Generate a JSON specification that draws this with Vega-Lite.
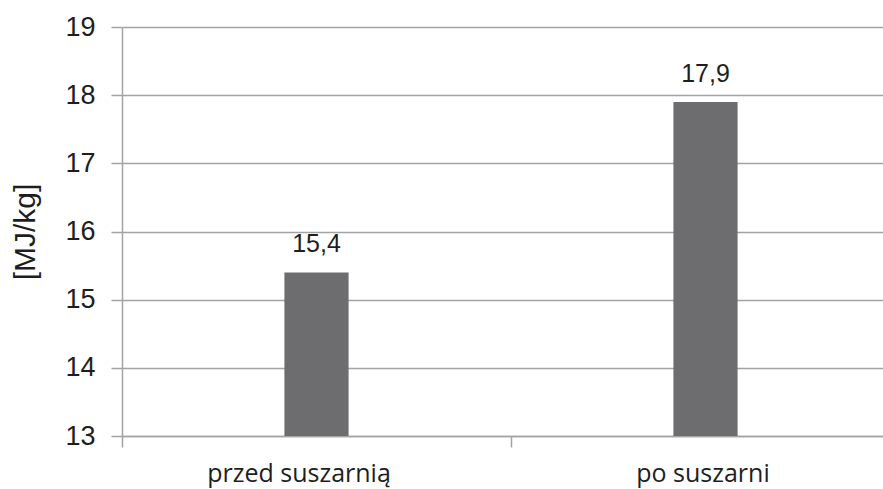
{
  "$schema": "https://vega.github.io/schema/vega-lite/v6.json",
  "autosize": "none",
  "width": 778,
  "height": 409,
  "padding": {"left": 122, "top": 27, "right": 0, "bottom": 53},
  "background": "white",
  "config": {
    "locale": {"number": {"decimal": ",", "thousands": " ", "grouping": [3], "currency": ["", " zł"]}},
    "view": {"stroke": null},
    "axis": {"domainColor": "#a3a3a3", "tickColor": "#a3a3a3", "gridColor": "#a3a3a3", "labelColor": "#1e1e1e", "titleColor": "#1e1e1e"}
  },
  "data": {
    "values": [
      {"miejsce": "przed suszarnią", "wartosc": 15.4},
      {"miejsce": "po suszarni", "wartosc": 17.9}
    ]
  },
  "encoding": {
    "x": {
      "field": "miejsce",
      "type": "nominal",
      "sort": null,
      "scale": {"paddingInner": 0, "paddingOuter": 0},
      "axis": {
        "title": null,
        "labelAngle": 0,
        "labelFont": "Open Sans",
        "labelFontSize": 25,
        "labelPadding": 14,
        "labelLimit": 500,
        "labelOffset": {"expr": "datum.value == 'przed suszarnią' ? -18 : -3"},
        "tickSize": 11,
        "tickBand": "extent",
        "domainWidth": 1.5,
        "tickWidth": 1.5
      }
    },
    "y": {
      "field": "wartosc",
      "type": "quantitative",
      "scale": {"domain": [13, 19], "nice": false, "zero": false},
      "axis": {
        "title": "[MJ/kg]",
        "titleFont": "Liberation Sans",
        "titleFontSize": 30,
        "titleFontWeight": "normal",
        "titlePadding": 24,
        "values": [13, 14, 15, 16, 17, 18, 19],
        "format": "d",
        "labelFont": "Liberation Sans",
        "labelFontSize": 27,
        "labelPadding": 16,
        "tickSize": 11,
        "domain": true,
        "domainWidth": 1.5,
        "grid": true,
        "gridWidth": 1.5,
        "tickWidth": 1.5
      }
    }
  },
  "layer": [
    {
      "mark": {"type": "bar", "color": "#6d6d6f", "width": {"band": 0.165}},
      "encoding": {"y2": {"datum": 13}}
    },
    {
      "mark": {"type": "text", "font": "Liberation Sans", "fontSize": 25, "color": "#1e1e1e", "baseline": "bottom", "dy": -15},
      "encoding": {"text": {"field": "wartosc", "type": "quantitative", "format": ".1f"}}
    }
  ]
}
